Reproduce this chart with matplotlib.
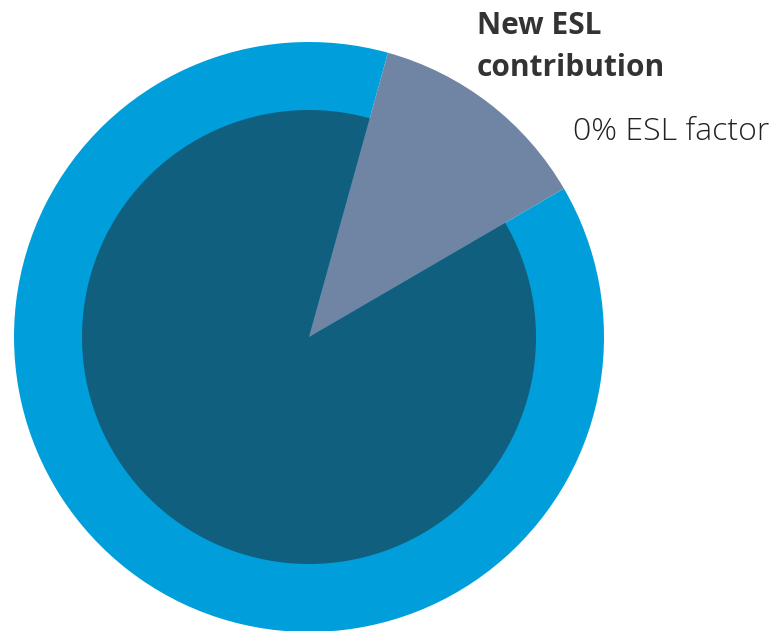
import matplotlib.pyplot as plt

# share of the circle taken by the new ESL contribution
labels = ['New ESL contribution', 'Existing']
shares = [12.3, 87.7]
start_angle = 30.2

outer_colors = ['#7085a3', '#009fdb']
inner_colors = ['#7085a3', '#115f7e']

W, H = 782, 631
fig = plt.figure(figsize=(W / 100, H / 100), dpi=100)
ax = fig.add_axes([0, 0, 1, 1])

cx, cy = 309, H - 337
r_out = 295
r_in = 227

# outer ring (light blue) with the wedge cut through to the edge
ax.pie(shares, colors=outer_colors, startangle=start_angle, counterclock=True,
       center=(cx, cy), radius=r_out, frame=True,
       wedgeprops=dict(linewidth=0, antialiased=True))
# inner dark disc
ax.pie(shares, colors=inner_colors, startangle=start_angle, counterclock=True,
       center=(cx, cy), radius=r_in, frame=True,
       wedgeprops=dict(linewidth=0, antialiased=True))

ax.set_xlim(0, W)
ax.set_ylim(0, H)
ax.set_aspect('equal')
ax.axis('off')

ax.text(477, H - 34, 'New ESL', fontsize=21.5, fontweight='bold', color='#333333',
        family='Open Sans', ha='left', va='baseline')
ax.text(477, H - 76, 'contribution', fontsize=21.5, fontweight='bold', color='#333333',
        family='Open Sans', ha='left', va='baseline')
ax.text(573, H - 140, '0% ESL factor', fontsize=23, fontweight='light', color='#222222',
        family='Open Sans', ha='left', va='baseline')

fig.savefig('out.png', dpi=100)
